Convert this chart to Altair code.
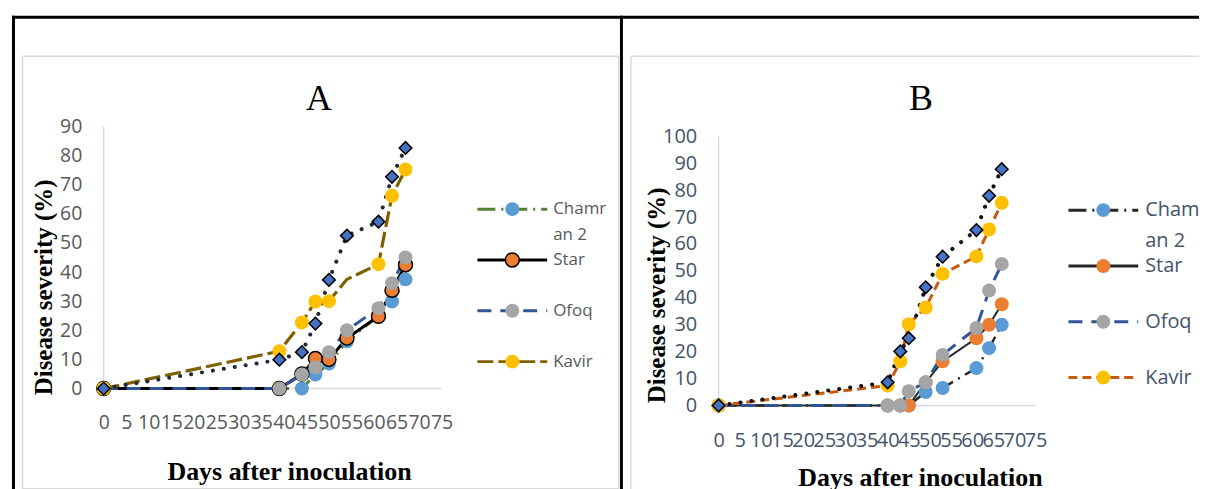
import altair as alt
import pandas as pd

# ---------------- data ----------------
SERIES = ["Chamran 2", "Star", "Ofoq", "Kavir"]
LEGEND_LABELS = ["Chamr\nan 2", "Star", "Ofoq", "Kavir"]
X_TICKS = list(range(0, 80, 5))
Y_TICKS_A = list(range(0, 100, 10))
Y_TICKS_B = list(range(0, 110, 10))

DAYS_A = [0, 39, 44, 47, 50, 54, 61, 64, 67]
CHAMRAN_A = [0, 0, 0, 4.8, 8.6, 16.2, 25, 29.9, 37.5]
STAR_A = [0, 0, 5, 10.3, 10, 17.3, 24.8, 33.7, 42.5]
OFOQ_A = [0, 0, 4.8, 7.3, 12.5, 20, 27.6, 36.2, 45]
KAVIR_A = [0, 12.8, 22.7, 29.9, 30, 37.5, 42.7, 66.2, 75.2]
EXTRA_A = [0, 9.9, 12.5, 22.3, 37.3, 52.5, 57.3, 72.7, 82.6]
HIDDEN_A = [("Kavir", 5)]

DAYS_B = [0, 40, 43, 45, 49, 53, 61, 64, 67]
CHAMRAN_B = [0, 0, 0, 0, 5.0, 6.5, 13.9, 21.3, 30]
STAR_B = [0, 0, 0, 0, 8.6, 16.4, 25, 30, 37.6]
OFOQ_B = [0, 0, 0, 5.3, 8.6, 18.8, 28.8, 42.7, 52.6]
KAVIR_B = [0, 7.4, 16.4, 30.2, 36.4, 48.9, 55.4, 65.4, 75.3]
EXTRA_B = [0, 8.6, 20.1, 25, 43.9, 55.3, 65.2, 77.9, 87.8]
HIDDEN_B = []

X_TITLE = "Days after inoculation"
Y_TITLE = "Disease severity (%)"

TICK_FONT = "Open Sans, Noto Sans, sans-serif"
SERIF = "Liberation Serif"


def long_frame(days, cols, hidden, st):
    rows = []
    for k, (name, vals) in enumerate(cols.items()):
        for i, (d, v) in enumerate(zip(days, vals)):
            rows.append({"day": d, "value": v, "series": name,
                         "lw": st["lw"][k], "ow": st["ow"][k],
                         "marker": 0 if (name, i) in hidden else 1})
    return pd.DataFrame(rows)


def plot_panel(days, cols, extra, hidden, st, decor=None):
    df = long_frame(days, cols, hidden, st)
    ex = pd.DataFrame({"day": days, "value": extra})
    X = alt.X("day:Q", scale=alt.Scale(domain=[0, 75], nice=False, zero=False),
              axis=alt.Axis(values=X_TICKS, domain=False, ticks=False, grid=False,
                            labelFont=TICK_FONT, labelFontSize=st["xfs"], labelColor=st["tc"],
                            labelPadding=st["xpad"], labelOverlap=False, labelFlush=False,
                            title=X_TITLE, titleFont=SERIF, titleFontSize=26,
                            titleFontWeight="bold", titleColor="black",
                            titleX=st["xtx"], titleY=st["xty"], titleBaseline="middle",
                            titleAlign="center"))
    Y = alt.Y("value:Q", scale=alt.Scale(domain=st["ydom"], nice=False, zero=False),
              axis=alt.Axis(values=st["yticks"], domain=False, ticks=False, grid=False,
                            labelFont=TICK_FONT, labelFontSize=st["yfs"], labelColor=st["tc"],
                            labelPadding=22, labelOverlap=False, labelFlush=False,
                            title=Y_TITLE, titleFont=SERIF, titleFontSize=25,
                            titleFontWeight="bold", titleColor="black",
                            titleX=st["ytx"], titleY=st["yty"], titleAngle=270,
                            titleBaseline="middle", titleAlign="center"))

    axis_df = pd.DataFrame({"day": [0], "day2": [75], "value": [0],
                            "value2": [st["yticks"][-1]]})
    xline = alt.Chart(axis_df).mark_rule(color=st["axc"], strokeWidth=1.5).encode(
        x=X, x2=alt.X2("day2:Q"), y=Y)
    yline = alt.Chart(axis_df).mark_rule(color=st["axc"], strokeWidth=1.5).encode(
        x=X, y=Y, y2=alt.Y2("value2:Q"))

    lines = alt.Chart(df).mark_line(strokeJoin="round").encode(
        x=X, y=Y,
        stroke=alt.Stroke("series:N", scale=alt.Scale(domain=SERIES, range=st["lc"]), legend=None),
        strokeDash=alt.StrokeDash("series:N", scale=alt.Scale(domain=SERIES, range=st["dash"]),
                                  legend=None),
        strokeWidth=alt.StrokeWidth("lw:Q", scale=None),
        order="day:Q",
    )
    ex_line = alt.Chart(ex).mark_line(strokeCap="round", strokeDash=[0.1, 11], strokeWidth=4,
                                      color=st["exc"]).encode(x=X, y=Y, order="day:Q")
    pts = alt.Chart(df).transform_filter("datum.marker == 1").mark_point(
        shape="circle", filled=True, size=196, stroke="black", opacity=1).encode(
        x=X, y=Y,
        fill=alt.Fill("series:N", scale=alt.Scale(domain=SERIES, range=st["mf"]), legend=None),
        strokeWidth=alt.StrokeWidth("ow:Q", scale=None),
    )
    ex_pts = alt.Chart(ex).mark_point(shape="diamond", filled=True, fill="#4472C4", stroke="black",
                                      strokeWidth=1.5, size=160, opacity=1).encode(x=X, y=Y)
    title = alt.Chart(one).mark_text(text=st["title"], font=SERIF, fontSize=36,
                                     baseline="alphabetic", align="center", color="black").encode(
        x=alt.value(st["tx"]), y=alt.value(-16))

    layers = []
    if decor is not None:
        layers += decor
    layers += [xline, yline, lines, ex_line, pts, ex_pts, title]
    return alt.layer(*layers).properties(width=st["w"], height=280)


def legend_panel(st):
    seg = pd.DataFrame([{"series": s, "row": i, "lx": lx, "ow": st["ow"][i]}
                        for i, s in enumerate(SERIES) for lx in (0, 1)])
    mid = pd.DataFrame([{"series": s, "row": i, "lx": 0.5, "ow": st["ow"][i]}
                        for i, s in enumerate(SERIES)])
    lab = pd.DataFrame([{"series": s, "row": i, "lx": 1, "label": LEGEND_LABELS[i]}
                        for i, s in enumerate(SERIES)])
    LX = alt.X("lx:Q", scale=alt.Scale(domain=st["lxdom"], nice=False, zero=False), axis=None)
    LY = alt.Y("row:Q", scale=alt.Scale(domain=st["ldom"], nice=False, zero=False, reverse=True),
               axis=None)
    sym = alt.Chart(seg).mark_line(strokeWidth=3).encode(
        x=LX, y=LY,
        stroke=alt.Stroke("series:N", scale=alt.Scale(domain=SERIES, range=st["lc"]), legend=None),
        strokeDash=alt.StrokeDash("series:N", scale=alt.Scale(domain=SERIES, range=st["dash"]),
                                  legend=None),
        order="lx:Q",
    )
    dot = alt.Chart(mid).mark_point(shape="circle", filled=True, size=196, stroke="black",
                                    opacity=1).encode(
        x=LX, y=LY,
        fill=alt.Fill("series:N", scale=alt.Scale(domain=SERIES, range=st["mf"]), legend=None),
        strokeWidth=alt.StrokeWidth("ow:Q", scale=None),
    )
    txt = alt.Chart(lab).mark_text(align="left", baseline="middle", dx=st["loff"], lineBreak="\n",
                                   lineHeight=st["llh"], font=TICK_FONT, fontSize=st["lfs"],
                                   color=st["tc"], clip=st["lclip"]).encode(
        x=LX, y=LY, text="label:N")
    return alt.layer(sym, dot, txt).properties(width=st["lw_px"], height=280)


# ---------------- decoration (table cell borders, chart-area boxes) ----------------
one = pd.DataFrame({"k": [0]})


def hrule(x1, x2, y, color, w):
    return alt.Chart(one).mark_rule(color=color, strokeWidth=w).encode(
        x=alt.value(x1), x2=alt.value(x2), y=alt.value(y))


def vrule(x, y1, y2, color, w):
    return alt.Chart(one).mark_rule(color=color, strokeWidth=w).encode(
        x=alt.value(x), y=alt.value(y1), y2=alt.value(y2))


OX, OY = 102, 124  # page position of panel A's plot origin
R, B = 1201, 489
decor = [
    vrule(20.5 - OX, 53.5 - OY, 487.5 - OY, "#D9D9D9", 1.5),
    vrule(618.5 - OX, 53.5 - OY, 487.5 - OY, "#D9D9D9", 1.5),
    hrule(20.5 - OX, 618.5 - OX, 53.5 - OY, "#D9D9D9", 1.5),
    hrule(20.5 - OX, 618.5 - OX, 487.5 - OY, "#D9D9D9", 1.5),
    vrule(631 - OX, 53.5 - OY, B - OY, "#D6DCE5", 1.5),
    hrule(631 - OX, R - OX, 53.5 - OY, "#D6DCE5", 1.5),
    hrule(10 - OX, R - OX, 14.5 - OY, "black", 3),
    vrule(11.5 - OX, 13 - OY, B - OY, "black", 3),
    vrule(621.5 - OX, 13 - OY, B - OY, "black", 3),
]

GAP = 33
# panel A plot 102..441, legend A panel 474..686 (symbol 477..547), panel B plot 719..1037,
# legend B panel 1070..1201 (symbol 1070..1140)
ST_A = dict(
    w=339, ydom=[-5.82, 90], yticks=Y_TICKS_A, tc="#595959", axc="#D9D9D9",
    xfs=19.5, yfs=19.5, lfs=17, xpad=8, xtx=186, xty=66, ytx=-60, yty=161,
    ldom=[-83 / 51, -83 / 51 + 280 / 51], loff=6, llh=26, lclip=False,
    lw_px=212, lxdom=[-3 / 70, (212 - 3) / 70],
    lc=["#548235", "#000000", "#2F5597", "#7F6000"],
    lw=[3, 3, 3, 3.2], ow=[0, 1.5, 0, 0],
    dash=[[18, 6, 2, 6], [1, 0], [14, 9], [16, 5]],
    mf=["#5B9BD5", "#ED7D31", "#A5A5A5", "#FFC000"],
    exc="#222A35", title="A", tx=216,
)
ST_B = dict(
    w=318, ydom=[0, 103.7], yticks=Y_TICKS_B, tc="#44546A", axc="#D6DCE5",
    xfs=20, yfs=20, lfs=20, xpad=25, xtx=202, xty=72, ytx=-62, yty=169,
    ldom=[-1.5, 3.5], loff=7, llh=31, lclip=True,
    lw_px=131, lxdom=[0, 131 / 70],
    lc=["#262626", "#262626", "#2F5597", "#C55A11"],
    lw=[2.5, 2, 3, 3], ow=[0, 0, 0, 0],
    dash=[[18, 6, 2, 6], [1, 0], [14, 9], [9, 5]],
    mf=["#5B9BD5", "#ED7D31", "#A5A5A5", "#FFC000"],
    exc="#111111", title="B", tx=203,
)

cols_a = {"Chamran 2": CHAMRAN_A, "Star": STAR_A, "Ofoq": OFOQ_A, "Kavir": KAVIR_A}
cols_b = {"Chamran 2": CHAMRAN_B, "Star": STAR_B, "Ofoq": OFOQ_B, "Kavir": KAVIR_B}

chart = alt.hconcat(
    plot_panel(DAYS_A, cols_a, EXTRA_A, HIDDEN_A, ST_A, decor=decor),
    legend_panel(ST_A),
    plot_panel(DAYS_B, cols_b, EXTRA_B, HIDDEN_B, ST_B),
    legend_panel(ST_B),
    spacing=GAP, bounds="flush",
).resolve_scale(
    stroke="independent", fill="independent", strokeDash="independent"
).properties(
    autosize=alt.AutoSizeParams(type="pad"),
    padding={"left": 2, "top": 5, "right": 0, "bottom": 0},
    background="white",
).configure_view(stroke=None)

chart.save("out.html", embed_options={"renderer": "svg", "actions": False})
